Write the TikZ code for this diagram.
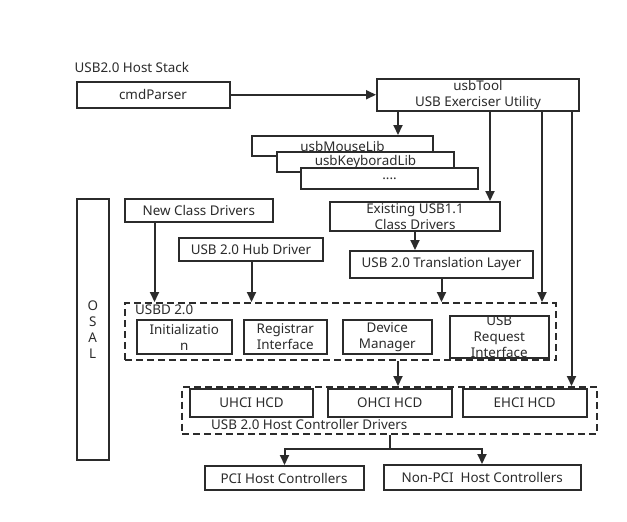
\documentclass[tikz,border=0pt]{standalone}
\usepackage{fontspec}
\setmainfont{Noto Sans}
\usetikzlibrary{arrows.meta}
\definecolor{ink}{HTML}{2B2B2B}
\tikzset{
  box/.style={draw=ink, line width=2pt, fill=white, text=ink, inner sep=0pt,
    align=center, font=\fontsize{13.4}{16}\selectfont},
  grp/.style={draw=ink, line width=2pt, dash pattern=on 7pt off 4pt, inner sep=0pt},
  lbl/.style={text=ink, inner sep=0pt, font=\fontsize{13.4}{16}\selectfont},
  arr/.style={draw=ink, line width=2pt, -{Triangle[length=10pt,width=9pt]}},
  ln/.style={draw=ink, line width=2pt}
}
\begin{document}
\begin{tikzpicture}[x=1pt,y=-1pt]
\useasboundingbox[fill=white] (0,0) rectangle (627,522);

\node[lbl, anchor=west] (title) at (74.5,68) {USB2.0 Host Stack};

\node[box, minimum width=153pt, minimum height=25.5pt] (cmd) at (153,94.75) {cmdParser};
\node[box, minimum width=202pt, minimum height=32pt] (tool) at (478,95) {usbTool\\USB Exerciser Utility};

\node[box, minimum width=181pt, minimum height=20pt] (mouse) at (342.5,146) {usbMouseLib};
\node[box, minimum width=177pt, minimum height=20pt] (kbd) at (365.5,162) {usbKeyboradLib};
\node[box, minimum width=177pt, minimum height=21pt] (dots) at (389.5,178.5) {....};

\node[box, minimum width=31.5pt, minimum height=261pt] (osal) at (92.75,329.5) {O\\S\\A\\L};

\node[box, minimum width=148.5pt, minimum height=23pt] (newcd) at (198.75,210.5) {New Class Drivers};
\node[box, minimum width=144pt, minimum height=23pt] (hub) at (251,249.5) {USB 2.0 Hub Driver};
\node[box, minimum width=170pt, minimum height=29pt] (exist) at (415,216.5) {Existing USB1.1\\Class Drivers};
\node[box, minimum width=183pt, minimum height=27pt] (trans) at (441.5,264.5) {USB 2.0 Translation Layer};

\node[grp, minimum width=430.5pt, minimum height=57pt] (usbd) at (340.25,331.5) {};
\node[lbl, anchor=west] (usbdl) at (135,310) {USBD 2.0};
\node[box, minimum width=94.5pt, minimum height=34pt] (init) at (184.25,337) {Initializatio\\n};
\node[box, minimum width=82.5pt, minimum height=34pt] (reg) at (285.25,337) {Registrar\\Interface};
\node[box, minimum width=89.5pt, minimum height=34pt] (dev) at (387.25,337) {Device\\Manager};
\node[box, minimum width=99.5pt, minimum height=34pt] (req) at (499.25,337) {USB\\Request\\Interface};

\node[grp, minimum width=415pt, minimum height=46.5pt] (hcd) at (389.5,410.25) {};
\node[box, minimum width=123pt, minimum height=28pt] (uhci) at (251.5,403) {UHCI HCD};
\node[box, minimum width=123.5pt, minimum height=28pt] (ohci) at (389.75,403) {OHCI HCD};
\node[box, minimum width=123.5pt, minimum height=28pt] (ehci) at (524.75,403) {EHCI HCD};
\node[lbl, anchor=west] (hcdl) at (211,424) {USB 2.0 Host Controller Drivers};

\node[box, minimum width=159pt, minimum height=24pt] (pci) at (284,478) {PCI Host Controllers};
\node[box, minimum width=197.5pt, minimum height=25pt] (npci) at (482.25,477.5) {Non-PCI\ \ Host Controllers};

% x positions of vertical connectors
\coordinate (xa) at (398,0);
\coordinate (xb) at (490,0);
\coordinate (xc) at (542,0);
\coordinate (xd) at (571.5,0);
\coordinate (xe) at (154.5,0);
\coordinate (xf) at (251.5,0);
\coordinate (xg) at (415,0);
\coordinate (xh) at (441.5,0);
\coordinate (xi) at (389.5,0);
\coordinate (xj) at (284.5,0);
\coordinate (xk) at (482,0);
\coordinate (split) at (389.5,449);

\draw[arr] (cmd.east) -- (tool.west |- cmd.east);
\draw[arr] (tool.south -| xa) -- (mouse.north -| xa);
\draw[arr] (tool.south -| xb) -- (exist.north -| xb);
\draw[arr] (tool.south -| xc) -- (usbd.north -| xc);
\draw[arr] (tool.south -| xd) -- (hcd.north -| xd);
\draw[arr] (newcd.south -| xe) -- (usbd.north -| xe);
\draw[arr] (hub.south -| xf) -- (usbd.north -| xf);
\draw[arr] (exist.south -| xg) -- (trans.north -| xg);
\draw[arr] (trans.south -| xh) -- (usbd.north -| xh);
\draw[arr] (usbd.south -| xa) -- (hcd.north -| xa);
\draw[ln] (hcd.south -| xi) -- (split);
\draw[arr] (split) -| (pci.north -| xj);
\draw[arr] (split) -| (npci.north -| xk);
\end{tikzpicture}
\end{document}
